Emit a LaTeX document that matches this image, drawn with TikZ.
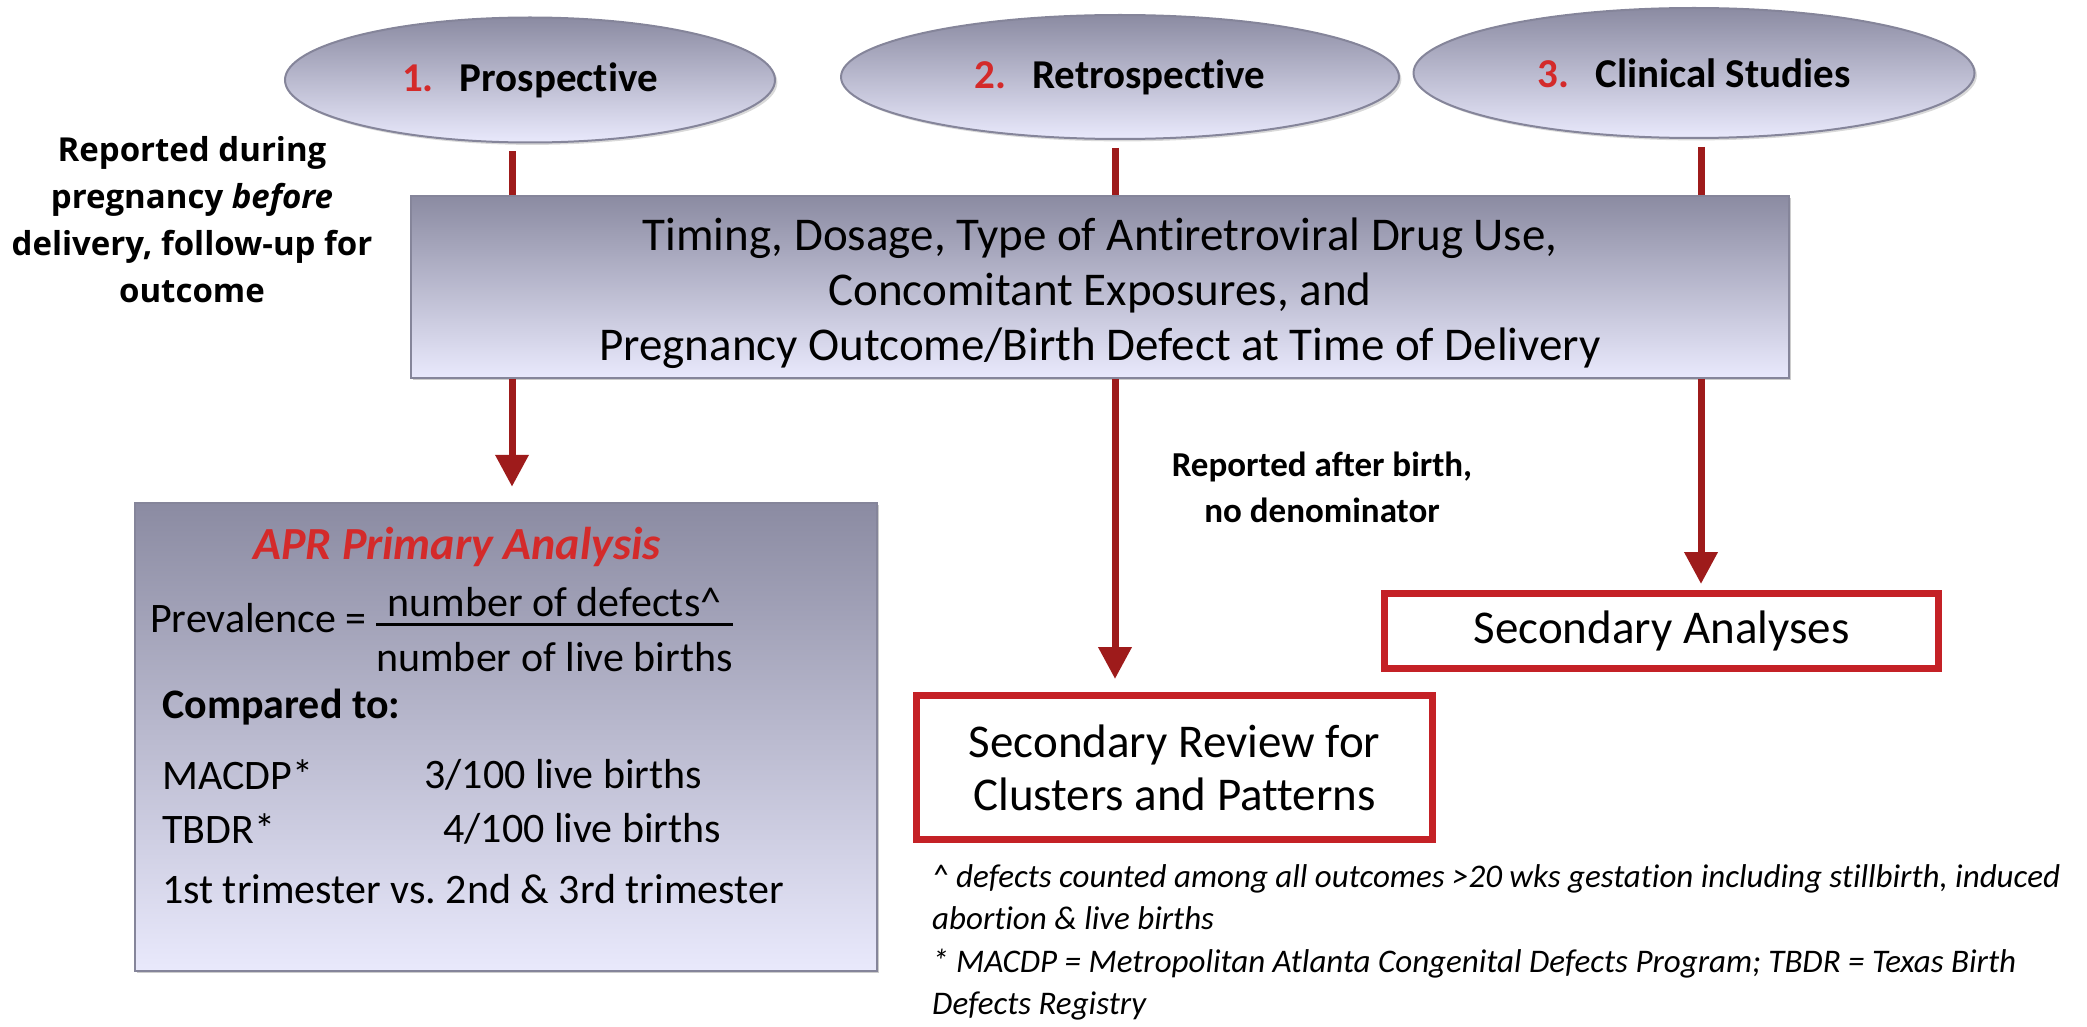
\documentclass[tikz,border=0pt]{standalone}
\usepackage{fontspec}
\setmainfont{Carlito}[Ligatures={NoCommon,NoContextual,NoRare}]
\newfontfamily\leftfont{Open Sans}
\usetikzlibrary{shapes.geometric,arrows.meta,shadows}
\definecolor{bandtop}{HTML}{8B8BA2}
\definecolor{bandbot}{HTML}{E9E9FC}
\definecolor{rimgray}{HTML}{85859A}
\definecolor{numred}{HTML}{D42A2A}
\definecolor{boxred}{HTML}{C42126}
\definecolor{arrowred}{HTML}{9E1B1B}
\newcommand{\ratio}[2]{\raisebox{16pt}{\setlength{\arrayrulewidth}{2.5pt}\begin{tabular}[t]{@{}c@{}}#1\\[-8pt]\hline\rule{0pt}{46pt}#2\end{tabular}}}

\begin{document}
\begin{tikzpicture}[x=1pt,y=-1pt]
    \tikzset{study/.style = {shape=ellipse,draw=rimgray,line width=2pt,top color=bandtop,bottom color=bandbot,drop shadow={opacity=0.3},inner sep=0pt,font=\fontsize{41}{48}\selectfont\bfseries}}
    \tikzset{band/.style = {rectangle,draw=rimgray,line width=2.5pt,top color=bandtop,bottom color=bandbot,drop shadow={opacity=0.4}}}
    \tikzset{result/.style = {rectangle,draw=boxred,line width=7pt,fill=white,align=center,font=\fontsize{47}{53}\selectfont}}
    \tikzset{item/.style = {anchor=west,inner sep=0pt,font=\fontsize{42}{50}\selectfont}}
    \tikzset{remark/.style = {align=center,inner sep=0pt}}
    \tikzset{link/.style = {draw=arrowred,line width=7pt}}
    \tikzset{edge/.style = {link,-{Triangle[width=32pt,length=32pt]}}}
    \useasboundingbox (0,0) rectangle (2087,1027);
    % studies
    \node[study,minimum width=490pt,minimum height=125pt] (prosp) at (530,80) {\textcolor{numred}{1.}\hspace{26pt}Prospective};
    \node[study,minimum width=558pt,minimum height=124pt] (retro) at (1120,77) {\textcolor{numred}{2.}\hspace{26pt}Retrospective};
    \node[study,minimum width=561pt,minimum height=130pt] (clin) at (1694,73) {\textcolor{numred}{3.}\hspace{26pt}Clinical Studies};
    % data collected
    \node[band,minimum width=1378pt,minimum height=182pt,align=center,font=\fontsize{47}{55}\selectfont] (data) at (1100,287) {};
    \node[align=center,font=\fontsize{47}{55}\selectfont] (datatext) at (1100,293)
        {Timing, Dosage, Type of Antiretroviral Drug Use,\\ Concomitant Exposures, and\\ Pregnancy Outcome/Birth Defect at Time of Delivery};
    % analyses
    \node[band,minimum width=742pt,minimum height=468pt] (apr) at (506,737) {};
    \node[result,minimum width=516pt,minimum height=144pt] (review) at (1174.5,767.5) {Secondary Review for\\ Clusters and Patterns};
    \node[result,minimum width=554pt,minimum height=75pt] (second) at (1661.5,631) {Secondary Analyses};
    % primary analysis text
    \node[inner sep=0pt,text=numred,font=\fontsize{46}{50}\selectfont\bfseries\itshape] (aprtitle) at (457,547) {APR Primary Analysis};
    \node[item,anchor=base west] (prev) at (150,632) {Prevalence = \ratio{number of defects\textasciicircum}{number of live births}};
    \node[item,font=\fontsize{42}{50}\selectfont\bfseries] (cmp) at (162,707) {Compared to:};
    \node[item] (macdp) at (162,775) {MACDP*};
    \node[item] (macdpval) at (424,775) {3/100 live births};
    \node[item] (tbdr) at (162,829) {TBDR*};
    \node[item] (tbdrval) at (443,829) {4/100 live births};
    \node[item] (trim) at (162,889) {1st trimester vs.\ 2nd \& 3rd trimester};
    % remarks
    \node[remark,font=\leftfont\fontsize{33}{47}\selectfont\bfseries] (during) at (192,220)
        {Reported during\\ pregnancy \textit{before}\\ delivery, follow-up for\\ outcome};
    \node[remark,font=\fontsize{35}{46}\selectfont\bfseries] (after) at (1322,487) {Reported after birth,\\ no denominator};
    \node[anchor=north west,inner sep=0pt,align=left,font=\fontsize{33}{42.5}\selectfont\itshape] (notes) at (932,864)
        {\textasciicircum{} defects counted among all outcomes >20 wks gestation including stillbirth, induced\\
         abortion \& live births\\
         * MACDP = Metropolitan Atlanta Congenital Defects Program; TBDR = Texas Birth\\
         Defects Registry};
    % arrow columns
    \coordinate (a1) at (512,0);
    \coordinate (a2) at (1115,0);
    \coordinate (a3) at (1701,0);
    % edges
    \draw[link,shorten <=8pt] (prosp.south -| a1) -- (data.north -| a1);
    \draw[link,shorten <=8pt] (retro.south -| a2) -- (data.north -| a2);
    \draw[link,shorten <=8pt] (clin.south -| a3) -- (data.north -| a3);
    \draw[edge,shorten >=15pt] (data.south -| a1) -- (apr.north -| a1);
    \draw[edge,shorten >=13pt] (data.south -| a2) -- (review.north -| a2);
    \draw[edge,shorten >=6pt] (data.south -| a3) -- (second.north -| a3);
\end{tikzpicture}
\end{document}
